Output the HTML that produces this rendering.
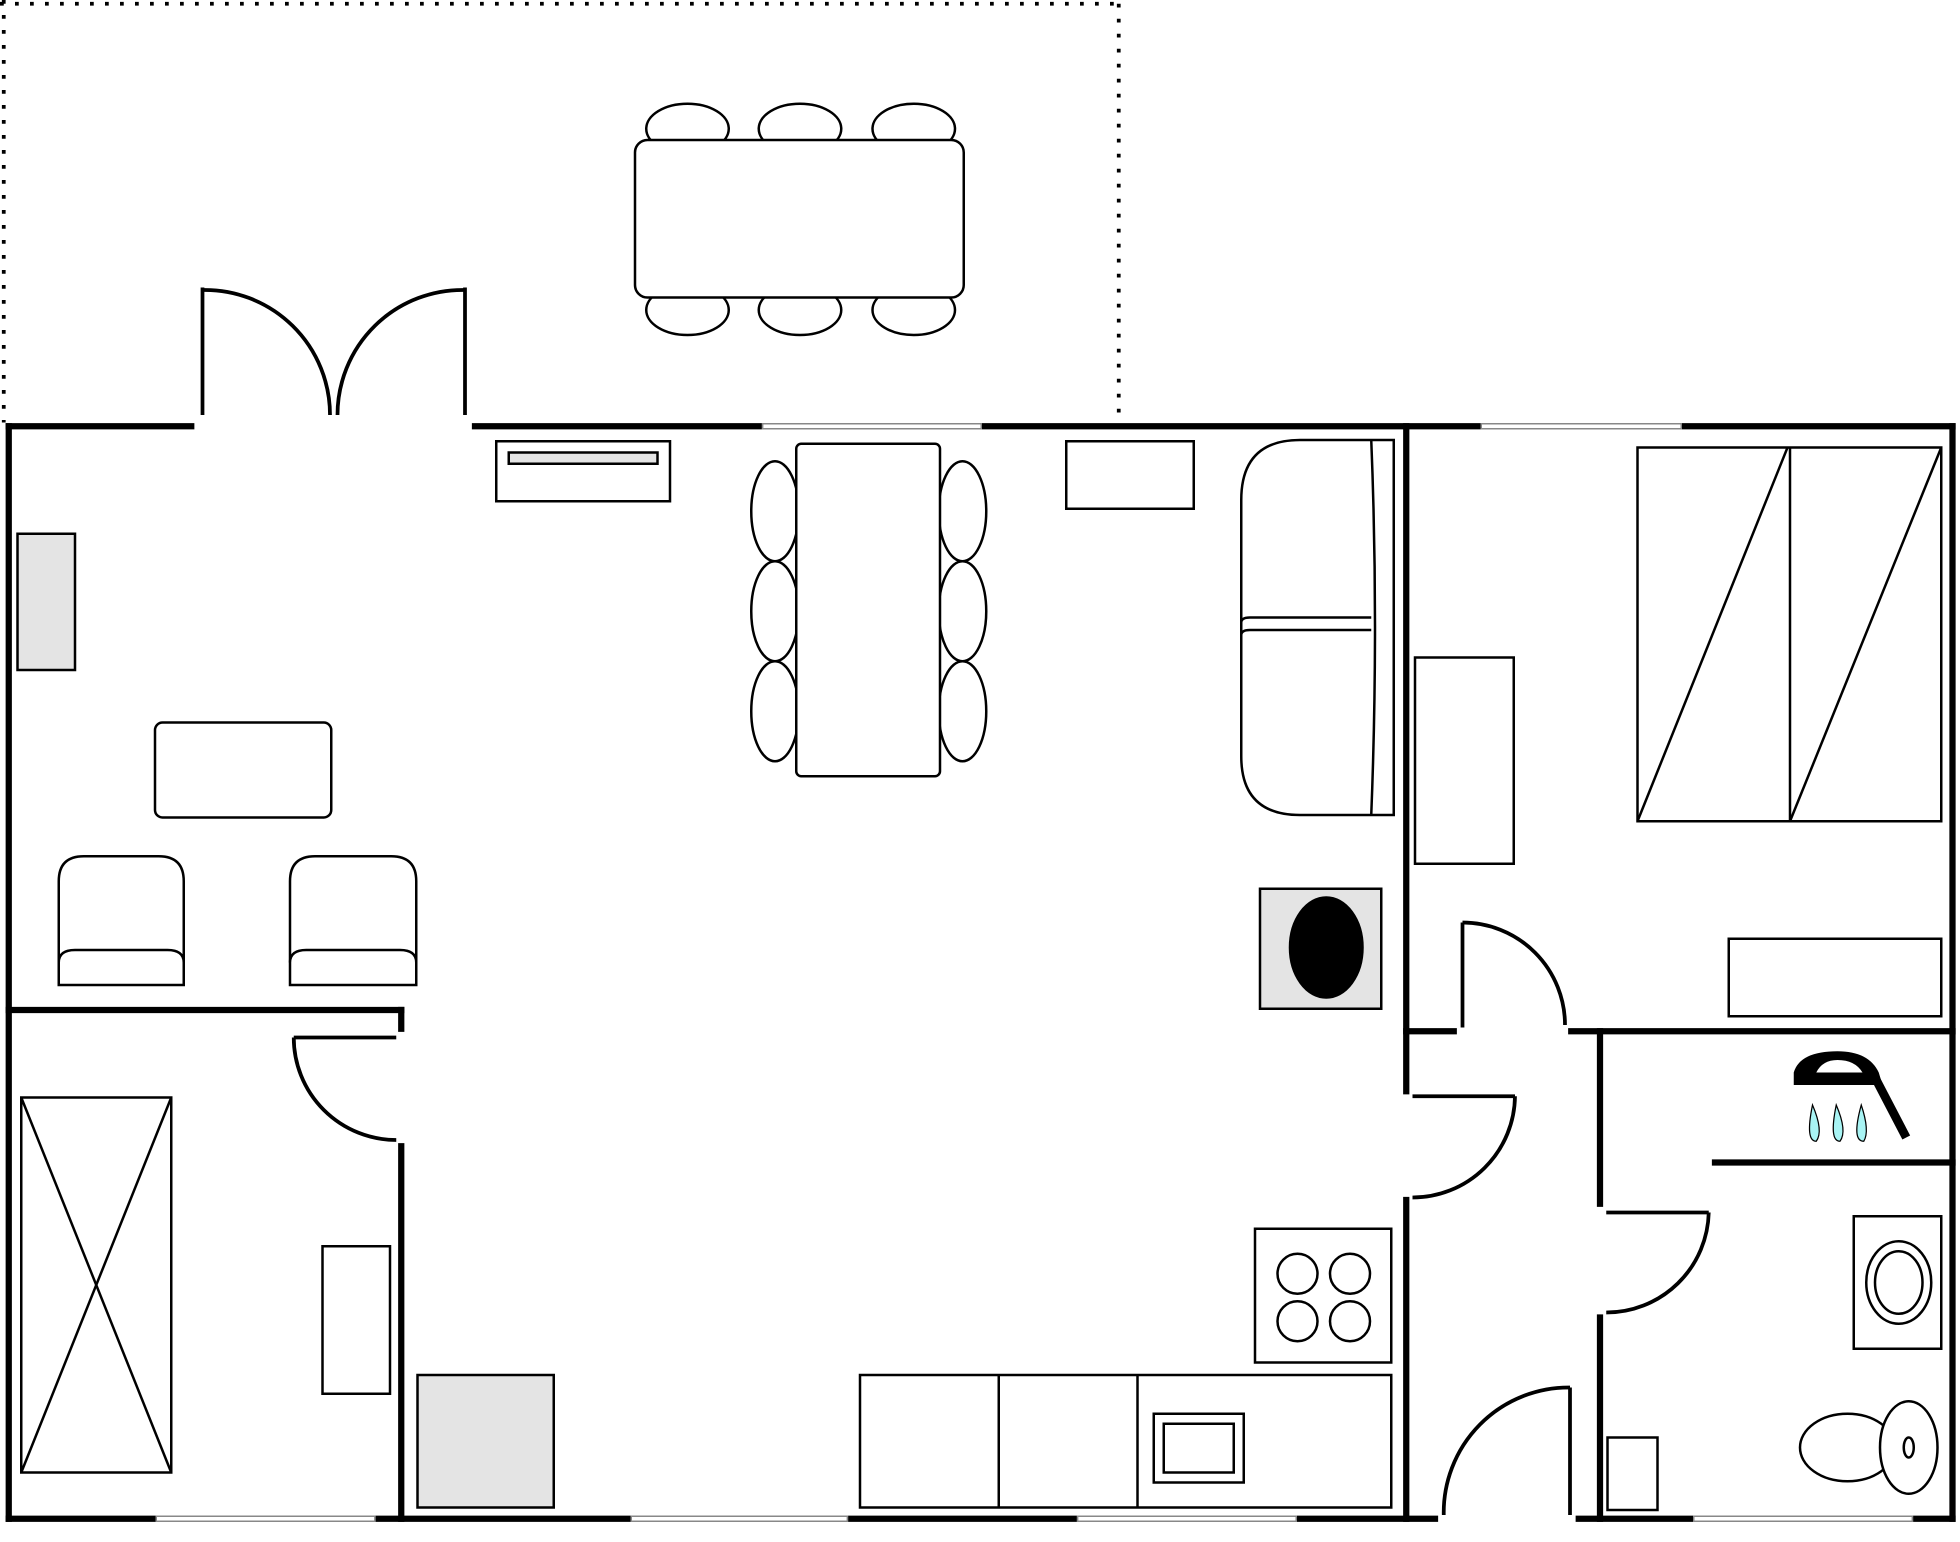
<!DOCTYPE html>
<html><head><meta charset="utf-8"><style>html,body{margin:0;padding:0;background:#fff}svg{display:block}</style></head><body>
<svg width="1960" height="1542" viewBox="0 0 1568 1233.6" xmlns="http://www.w3.org/2000/svg">
<g fill="none" stroke="#000">
<g stroke-width="3" stroke-dasharray="3,9">
<line x1="3" y1="0" x2="3" y2="338"/><line x1="0" y1="3" x2="895" y2="3"/><line x1="895" y1="3" x2="895" y2="336"/>
</g>
<g stroke-width="5" stroke-linecap="square">
<line x1="7" y1="341" x2="153" y2="341"/><line x1="380" y1="341" x2="608" y2="341"/><line x1="787" y1="341" x2="1183" y2="341"/><line x1="1347" y1="341" x2="1562" y2="341"/>
<line x1="7" y1="341" x2="7" y2="1215"/><line x1="1562" y1="341" x2="1562" y2="1215"/>
<line x1="7" y1="1215" x2="123" y2="1215"/><line x1="302" y1="1215" x2="503" y2="1215"/><line x1="680" y1="1215" x2="860" y2="1215"/><line x1="1039" y1="1215" x2="1148" y2="1215"/><line x1="1263" y1="1215" x2="1353" y2="1215"/><line x1="1532" y1="1215" x2="1562" y2="1215"/>
<line x1="7" y1="808" x2="321" y2="808"/><line x1="321" y1="808" x2="321" y2="823"/><line x1="321" y1="917" x2="321" y2="1215"/>
<line x1="1125" y1="341" x2="1125" y2="873"/><line x1="1125" y1="960" x2="1125" y2="1215"/>
<line x1="1125" y1="825" x2="1163" y2="825"/><line x1="1257" y1="825" x2="1562" y2="825"/>
<line x1="1280" y1="825" x2="1280" y2="963"/><line x1="1280" y1="1054" x2="1280" y2="1215"/>
<line x1="1372" y1="930" x2="1562" y2="930"/>
</g>
<g stroke="#888" stroke-width="1.2">
<rect x="610" y="339" width="175" height="4"/><rect x="1185" y="339" width="160" height="4"/>
<rect x="125" y="1213" width="175" height="4"/><rect x="505" y="1213" width="173" height="4"/><rect x="862" y="1213" width="175" height="4"/><rect x="1355" y="1213" width="175" height="4"/>
</g>
<g stroke-width="3">
<line x1="162" y1="230" x2="162" y2="332"/><path d="M162 232 A100 100 0 0 1 264 332"/>
<line x1="372" y1="230" x2="372" y2="332"/><path d="M372 232 A100 100 0 0 0 270 332"/>
<line x1="235" y1="830" x2="317" y2="830"/><path d="M235 830 A82 82 0 0 0 317 912"/>
<line x1="1130" y1="877" x2="1212" y2="877"/><path d="M1212 877 A82 82 0 0 1 1130 958"/>
<line x1="1170" y1="738" x2="1170" y2="822"/><path d="M1170 738 A82 82 0 0 1 1252 820"/>
<line x1="1285" y1="970" x2="1367" y2="970"/><path d="M1367 970 A82 82 0 0 1 1285 1050"/>
<line x1="1256" y1="1110" x2="1256" y2="1212"/><path d="M1256 1110 A100 100 0 0 0 1155 1212"/>
</g>
<g stroke-width="2" fill="#fff">
<ellipse cx="550" cy="103" rx="33" ry="20"/><ellipse cx="640" cy="103" rx="33" ry="20"/><ellipse cx="731" cy="103" rx="33" ry="20"/>
<ellipse cx="550" cy="248" rx="33" ry="20"/><ellipse cx="640" cy="248" rx="33" ry="20"/><ellipse cx="731" cy="248" rx="33" ry="20"/>
<rect x="508" y="112" width="263" height="126" rx="10"/>
<ellipse cx="620" cy="409" rx="19" ry="40"/><ellipse cx="620" cy="489" rx="19" ry="40"/><ellipse cx="620" cy="569" rx="19" ry="40"/>
<ellipse cx="770" cy="409" rx="19" ry="40"/><ellipse cx="770" cy="489" rx="19" ry="40"/><ellipse cx="770" cy="569" rx="19" ry="40"/>
<rect x="637" y="355" width="115" height="266" rx="4"/>
<rect x="397" y="353" width="139" height="48"/><rect x="407" y="362" width="119" height="9" fill="#e4e4e4"/>
<rect x="853" y="353" width="102" height="54"/>
<rect x="14" y="427" width="46" height="109" fill="#e4e4e4"/>
<rect x="124" y="578" width="141" height="76" rx="6"/>
<path d="M47 788 V705 Q47 685 67 685 H127 Q147 685 147 705 V788 Z"/><path d="M47 770 Q47 760 60 760 H134 Q147 760 147 770"/>
<path d="M232 788 V705 Q232 685 252 685 H313 Q333 685 333 705 V788 Z"/><path d="M232 770 Q232 760 245 760 H320 Q333 760 333 770"/>
<path d="M1115 352 V652 H1040 Q993 652 993 605 V400 Q993 352 1040 352 Z"/>
<path d="M1097 352 Q1103 500 1097 652"/>
<path d="M993 498 Q993 494 1000 494 H1097 M993 508 Q993 504 1000 504 H1097" />
<rect x="1008" y="711" width="97" height="96" fill="#e4e4e4"/>
<ellipse cx="1061" cy="758" rx="29" ry="40" fill="#000"/>
<rect x="17" y="878" width="120" height="300"/><line x1="17" y1="878" x2="137" y2="1178"/><line x1="137" y1="878" x2="17" y2="1178"/>
<rect x="258" y="997" width="54" height="118"/>
<rect x="334" y="1100" width="109" height="106" fill="#e4e4e4"/>
<rect x="1004" y="983" width="109" height="107"/>
<circle cx="1038" cy="1019" r="16"/><circle cx="1080" cy="1019" r="16"/><circle cx="1038" cy="1057" r="16"/><circle cx="1080" cy="1057" r="16"/>
<rect x="688" y="1100" width="425" height="106"/><line x1="799" y1="1100" x2="799" y2="1206"/><line x1="910" y1="1100" x2="910" y2="1206"/>
<rect x="923" y="1131" width="72" height="55"/><rect x="931" y="1139" width="56" height="39"/>
<rect x="1310" y="358" width="243" height="299"/><line x1="1432" y1="358" x2="1432" y2="657"/>
<line x1="1310" y1="657" x2="1430" y2="358"/><line x1="1432" y1="657" x2="1553" y2="358"/>
<rect x="1132" y="526" width="79" height="165"/>
<rect x="1383" y="751" width="170" height="62"/>
<rect x="1483" y="973" width="70" height="106"/><ellipse cx="1519" cy="1026" rx="26" ry="33"/><ellipse cx="1519" cy="1026" rx="19" ry="25"/>
<ellipse cx="1478" cy="1158" rx="38" ry="27"/><ellipse cx="1527" cy="1158" rx="23" ry="37"/><ellipse cx="1527" cy="1158" rx="4" ry="8"/>
<rect x="1286" y="1150" width="40" height="58"/>
</g>
<!-- shower -->
<path d="M1435 868 L1435 858 Q1440 841 1470 841 Q1495 841 1503 858 L1506 868 Z M1453 858 L1490 858 Q1484 848 1470 848 Q1458 848 1453 858 Z" fill="#000" stroke="none" fill-rule="evenodd"/>
<line x1="1500" y1="862" x2="1525" y2="910" stroke-width="7"/>
<g fill="#a8f4f4" stroke="#000" stroke-width="1">
<path d="M1450 884 Q1459 905 1453 913 Q1444 913 1450 884Z"/><path d="M1469 884 Q1478 905 1472 913 Q1463 913 1469 884Z"/><path d="M1489 884 Q1496 905 1491 913 Q1481 913 1489 884Z"/>
</g>
</g>
</svg>
</body></html>
